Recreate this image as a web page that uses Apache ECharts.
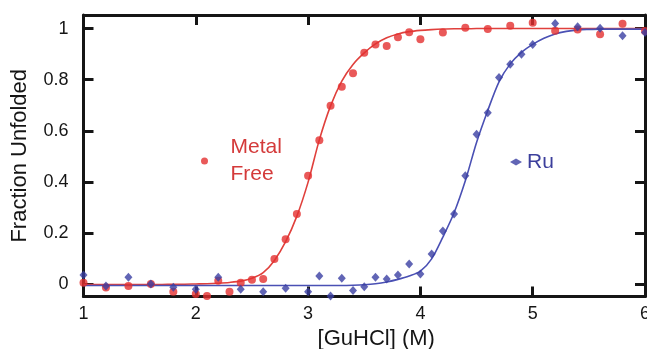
<!DOCTYPE html>
<html>
<head>
<meta charset="utf-8">
<script src="https://cdn.jsdelivr.net/npm/echarts@6/dist/echarts.min.js"></script>
<style>
  html, body { margin: 0; padding: 0; background: #fff; }
  #chart { width: 647px; height: 349px; }
</style>
</head>
<body>
<div id="chart"></div>
<script>
// Denaturation data: fraction unfolded vs. [GuHCl] (M)
const metalFreeX = [1.0, 1.2, 1.4, 1.6, 1.8, 2.0, 2.1, 2.2, 2.3, 2.4, 2.5, 2.6, 2.7, 2.8, 2.9, 3.0,
  3.1, 3.2, 3.3, 3.4, 3.5, 3.6, 3.7, 3.8, 3.9, 4.0, 4.2, 4.4, 4.6, 4.8, 5.0, 5.2, 5.4, 5.6, 5.8, 6.0];
const metalFreeY = [0.007, -0.012, -0.006, 0.002, -0.028, -0.037, -0.045, 0.015, -0.028, 0.007, 0.018, 0.021, 0.100, 0.177, 0.275, 0.425,
  0.564, 0.698, 0.773, 0.825, 0.905, 0.938, 0.932, 0.966, 0.986, 0.958, 0.985, 1.003, 0.998, 1.011, 1.023, 0.991, 0.996, 0.978, 1.019, 0.990];

const ruX = [1.0, 1.2, 1.4, 1.6, 1.8, 2.0, 2.2, 2.4, 2.6, 2.8, 3.0, 3.1, 3.2, 3.3, 3.4, 3.5, 3.6, 3.7, 3.8, 3.9,
  4.0, 4.1, 4.2, 4.3, 4.4, 4.5, 4.6, 4.7, 4.8, 4.9, 5.0, 5.2, 5.4, 5.6, 5.8, 6.0];
const ruY = [0.037, -0.006, 0.028, 0.002, -0.011, -0.019, 0.028, -0.019, -0.028, -0.015, -0.028, 0.033, -0.045, 0.024, -0.024, -0.009, 0.028, 0.021, 0.037, 0.080,
  0.041, 0.119, 0.209, 0.275, 0.425, 0.587, 0.671, 0.809, 0.861, 0.900, 0.938, 1.020, 1.007, 1.001, 0.972, 0.985];

// Fitted unfolding curves, sampled every 0.1 M
const fitX = [1.0, 1.1, 1.2, 1.3, 1.4, 1.5, 1.6, 1.7, 1.8, 1.9, 2.0, 2.1, 2.2, 2.3, 2.4, 2.5, 2.6, 2.7, 2.8, 2.9,
  3.0, 3.1, 3.2, 3.3, 3.4, 3.5, 3.6, 3.7, 3.8, 3.9, 4.0, 4.1, 4.2, 4.3, 4.4, 4.5, 4.6, 4.7, 4.8, 4.9,
  5.0, 5.1, 5.2, 5.3, 5.4, 5.5, 5.6, 5.7, 5.8, 5.9, 6.0];
const metalFreeFit = [0.000, 0.000, 0.000, 0.000, 0.000, 0.000, 0.000, 0.000, 0.001, 0.001, 0.002, 0.003, 0.005, 0.008, 0.013, 0.024, 0.046, 0.094, 0.167, 0.267,
  0.400, 0.565, 0.698, 0.795, 0.860, 0.905, 0.940, 0.964, 0.979, 0.988, 0.993, 0.996, 0.998, 0.999, 0.999, 1.000, 1.000, 1.000, 1.000, 1.000,
  1.000, 1.000, 1.000, 1.000, 1.000, 1.000, 1.000, 1.000, 1.000, 1.000, 1.000];
const ruFit = [-0.004, -0.004, -0.004, -0.004, -0.004, -0.004, -0.004, -0.004, -0.004, -0.004, -0.004, -0.004, -0.004, -0.004, -0.004, -0.004, -0.004, -0.004, -0.004, -0.004,
  -0.004, -0.004, -0.004, -0.004, -0.003, -0.001, 0.003, 0.010, 0.020, 0.033, 0.052, 0.100, 0.185, 0.280, 0.405, 0.555, 0.680, 0.792, 0.862, 0.907,
  0.938, 0.962, 0.979, 0.989, 0.995, 0.997, 0.998, 0.998, 0.998, 0.998, 0.998];

const yTicks = [0, 0.2, 0.4, 0.6, 0.8, 1];
const xTicks = [1, 2, 3, 4, 5, 6];

const RED = '#e3302f';
const RED_LINE = '#e0403c';
const RED_TEXT = '#d43a3a';
const BLUE = '#3a3fa3';
const BLUE_LINE = '#4a50b4';
const BLUE_TEXT = '#3c3f9c';
const INK = '#151515';
const FONT = "'Liberation Sans', Arial, Helvetica, sans-serif";

const zip = (xs, ys) => xs.map((x, i) => [x, ys[i]]);

const frameLine = { show: true, onZero: false, lineStyle: { color: INK, width: 3 } };
const frameTick = { show: true, inside: true, length: 10, lineStyle: { color: INK, width: 3 } };

const chart = echarts.init(document.getElementById('chart'), null, { renderer: 'canvas' });
chart.setOption({
  animation: false,
  backgroundColor: '#ffffff',
  textStyle: { fontFamily: FONT },
  // fixed plot rectangle; labels may run to (and past) the canvas edge
  grid: { left: 83.5, right: 2, top: 15, bottom: 52.5, containLabel: false, outerBoundsMode: 'none' },
  xAxis: [
    {
      type: 'value', min: 1, max: 6, interval: 1, position: 'bottom',
      axisLine: frameLine, axisTick: frameTick, splitLine: { show: false },
      axisLabel: {
        color: INK, fontSize: 18, fontFamily: FONT, margin: 9,
        customValues: xTicks, formatter: v => String(v)
      },
      name: '[GuHCl] (M)', nameLocation: 'middle', nameGap: 31,
      nameTextStyle: { color: INK, fontSize: 22, fontFamily: FONT, padding: [0, 0, 0, 24] }
    },
    {
      type: 'value', min: 1, max: 6, interval: 1, position: 'top',
      axisLine: frameLine, axisTick: frameTick, splitLine: { show: false },
      axisLabel: { show: false }
    }
  ],
  yAxis: [
    {
      type: 'value', min: -0.047, max: 1.053, position: 'left',
      axisLine: frameLine,
      axisTick: Object.assign({ customValues: yTicks }, frameTick),
      splitLine: { show: false },
      axisLabel: {
        color: INK, fontSize: 18, fontFamily: FONT, margin: 15,
        customValues: yTicks, formatter: v => String(v)
      },
      name: 'Fraction Unfolded', nameLocation: 'middle', nameGap: 47, nameRotate: 90,
      nameTextStyle: { color: INK, fontSize: 22, fontFamily: FONT, padding: [0, 0, 6, 0] }
    },
    {
      type: 'value', min: -0.047, max: 1.053, position: 'right',
      axisLine: frameLine,
      axisTick: Object.assign({ customValues: yTicks }, frameTick),
      splitLine: { show: false },
      axisLabel: { show: false }
    }
  ],
  legend: [
    {
      data: [{ name: 'Metal Free', icon: 'circle' }],
      left: 196, top: 117, itemWidth: 42, itemHeight: 7, selectedMode: false,
      formatter: () => 'Metal\nFree',
      textStyle: { color: RED_TEXT, fontSize: 21, lineHeight: 27, fontFamily: FONT, padding: [24, 0, 0, 0] }
    },
    {
      data: [{ name: 'Ru', icon: 'diamond' }],
      left: 505, top: 145, itemWidth: 12, itemHeight: 7, selectedMode: false,
      textStyle: { color: BLUE_TEXT, fontSize: 21, lineHeight: 24, fontFamily: FONT }
    }
  ],
  series: [
    {
      name: 'Metal Free fit', type: 'line', xAxisIndex: 0, yAxisIndex: 0,
      data: zip(fitX, metalFreeFit), showSymbol: false, smooth: 0.3,
      lineStyle: { color: RED_LINE, width: 1.6 }, silent: true, z: 2
    },
    {
      name: 'Ru fit', type: 'line', xAxisIndex: 0, yAxisIndex: 0,
      data: zip(fitX, ruFit), showSymbol: false, smooth: 0.3,
      lineStyle: { color: BLUE_LINE, width: 1.6 }, silent: true, z: 3
    },
    {
      name: 'Metal Free', type: 'scatter', xAxisIndex: 0, yAxisIndex: 0,
      data: zip(metalFreeX, metalFreeY), symbol: 'circle', symbolSize: 8,
      itemStyle: { color: RED }, z: 4
    },
    {
      name: 'Ru', type: 'scatter', xAxisIndex: 0, yAxisIndex: 0,
      data: zip(ruX, ruY), symbol: 'diamond', symbolSize: [8, 9],
      itemStyle: { color: BLUE }, z: 5
    }
  ]
});
</script>
</body>
</html>
